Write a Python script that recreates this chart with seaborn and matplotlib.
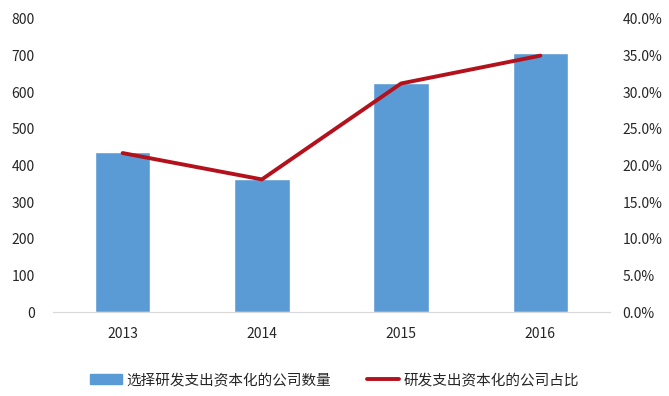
import matplotlib
matplotlib.use('Agg')
import matplotlib.pyplot as plt
import seaborn as sns
import numpy as np
from matplotlib.patches import Patch
from matplotlib.lines import Line2D

# dados
anos = ['2013', '2014', '2015', '2016']
qtd_empresas = [436, 363, 626, 707]
percentual = [21.7, 18.1, 31.2, 35.0]
nome_barra = '选择研发支出资本化的公司数量'
nome_linha = '研发支出资本化的公司占比'

azul = '#5B9BD5'
vermelho = '#B3121D'

sns.set_style('white')
plt.rcParams['font.family'] = ['Noto Sans CJK SC', 'DejaVu Sans']

fig = plt.figure(figsize=(6.69, 3.96), dpi=100)
ax = fig.add_axes([53/669, 84/396, 557/669, 293/396])

sns.barplot(x=anos, y=qtd_empresas, color=azul, width=0.4, saturation=1, ax=ax)
ax.set_ylim(0, 800)
ax.set_xlim(-0.5, 3.5)
ax.set_yticks(range(0, 801, 100))
ax.set_xlabel('')
ax.set_ylabel('')

ax2 = ax.twinx()
sns.lineplot(x=np.arange(len(anos)), y=percentual, color=vermelho, linewidth=2.8, ax=ax2)
ax2.set_ylim(0, 40)
ax2.set_yticks(np.arange(0, 40.1, 5))
ax2.set_yticklabels([f'{v:.1f}%' for v in np.arange(0, 40.1, 5)])

for a in (ax, ax2):
    for s in ['top', 'left', 'right', 'bottom']:
        a.spines[s].set_visible(False)
    a.tick_params(length=0, labelsize=10, colors='#262626')
ax.spines['bottom'].set_visible(True)
ax.spines['bottom'].set_color('#D9D9D9')
ax.tick_params(axis='y', pad=13)
ax.tick_params(axis='x', pad=11)
ax2.tick_params(axis='y', pad=9)

handles = [Patch(color=azul), Line2D([0], [0], color=vermelho, linewidth=2.8)]
fig.legend(handles, [nome_barra, nome_linha], loc='center', bbox_to_anchor=(0.5, 16/396),
           ncol=2, frameon=False, fontsize=10.5, handlelength=2.2, handletextpad=0.3,
           columnspacing=2.5, labelcolor='#262626')

fig.savefig('out.png', dpi=100)
